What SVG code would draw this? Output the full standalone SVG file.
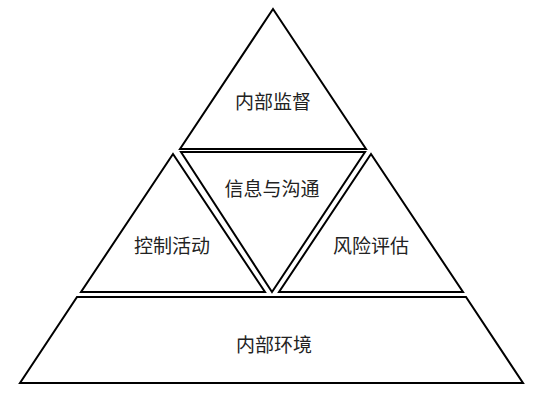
<svg xmlns="http://www.w3.org/2000/svg" width="549" height="400" viewBox="0 0 549 400">
<style>
.s{fill:#fff;stroke:#000;stroke-width:2;stroke-linejoin:miter}
.t{font-family:"Noto Sans CJK SC","Noto Sans",sans-serif;font-size:19px;fill:#222;text-anchor:middle;dominant-baseline:central}
</style>
<rect width="549" height="400" fill="#fff"/>
<g id="top">
<polygon class="s" points="273,9 180,149 366,149"/>
<text class="t" x="273" y="100">内部监督</text>
</g>
<g id="middle">
<polygon class="s" points="181,152 365,152 272,292"/>
<text class="t" x="272" y="187">信息与沟通</text>
</g>
<g id="left">
<polygon class="s" points="173,154 81,292 265,292"/>
<text class="t" x="172" y="244">控制活动</text>
</g>
<g id="right">
<polygon class="s" points="371,154 279,292 463,292"/>
<text class="t" x="371" y="244">风险评估</text>
</g>
<g id="base">
<polygon class="s" points="77,297 466,297 523,383 20,383"/>
<text class="t" x="274" y="343">内部环境</text>
</g>
<g id="connectors"></g>
</svg>
